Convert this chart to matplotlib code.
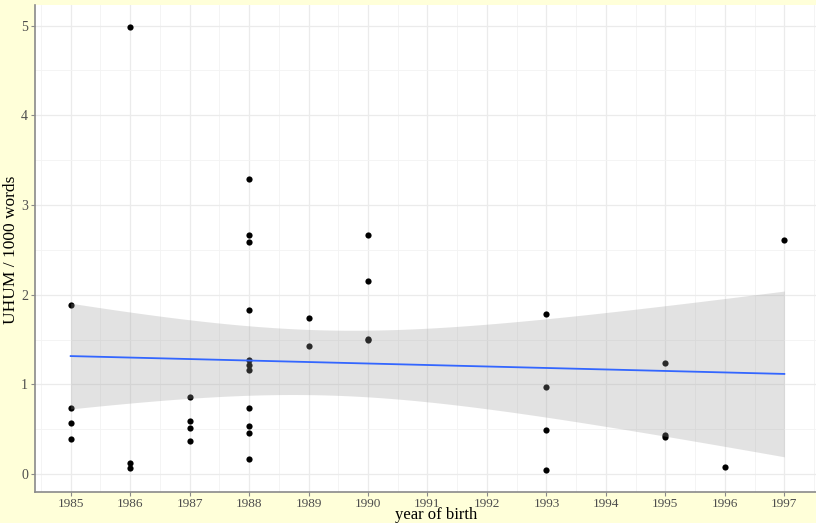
#!/usr/bin/env python3

import numpy as np
import matplotlib

matplotlib.use("Agg")
import matplotlib.pyplot as plt
from matplotlib.ticker import MultipleLocator

plt.rcParams["font.family"] = ["Liberation Serif", "DejaVu Serif"]

# points: year of birth and UHUM per 1000 words
years = (
    [1985] * 4 + [1986] * 3 + [1987] * 4 + [1988] * 11 + [1989] * 2
    + [1990] * 4 + [1993] * 4 + [1995] * 3 + [1996] + [1997]
)
uhum = [
    1.89, 0.74, 0.57, 0.39,
    4.98, 0.12, 0.07,
    0.86, 0.59, 0.51, 0.37,
    3.29, 2.66, 2.59, 1.83, 1.27, 1.22, 1.16, 0.74, 0.54, 0.46, 0.17,
    1.74, 1.43,
    2.66, 2.15, 1.51, 1.49,
    1.79, 0.97, 0.49, 0.04,
    1.24, 0.44, 0.41,
    0.08,
    2.61,
]
year_ticks = list(range(1985, 1998))
T_975 = 2.030  # t quantile, df = 35

BG = "#FFFFD9"


def main(output_file="out.png"):
    x = np.array(years, dtype=float)
    y = np.array(uhum)

    # lm fit with 95% confidence band (geom_smooth(method = "lm"))
    n = len(x)
    slope, intercept = np.polyfit(x, y, 1)
    resid = y - (intercept + slope * x)
    s = np.sqrt(np.sum(resid ** 2) / (n - 2))
    xs = np.linspace(x.min(), x.max(), 80)
    fit = intercept + slope * xs
    se = s * np.sqrt(1 / n + (xs - x.mean()) ** 2 / np.sum((x - x.mean()) ** 2))

    fig = plt.figure(figsize=(8.16, 5.23), dpi=100, facecolor=BG)
    ax = fig.add_axes([35 / 816, 31 / 523, 785 / 816, 487 / 523])
    ax.set_facecolor("white")

    ax.scatter(x, y, s=20, color="black", linewidths=0, zorder=2)
    ax.fill_between(xs, fit - T_975 * se, fit + T_975 * se,
                    color="#999999", alpha=0.28, linewidth=0, zorder=3)
    ax.plot(xs, fit, color="#3366FF", linewidth=1.3, zorder=4)

    ax.set_xlim(1984.4, 1997.6)
    ax.set_ylim(-0.2, 5.23)
    ax.set_xticks(year_ticks)
    ax.yaxis.set_major_locator(MultipleLocator(1))
    ax.xaxis.set_minor_locator(MultipleLocator(0.5))
    ax.yaxis.set_minor_locator(MultipleLocator(0.5))

    ax.grid(which="major", color="#EBEBEB", linewidth=0.9, zorder=0)
    ax.grid(which="minor", color="#F3F3F3", linewidth=0.6, zorder=0)
    ax.set_axisbelow(True)

    for side in ("top", "right"):
        ax.spines[side].set_visible(False)
    for side in ("left", "bottom"):
        ax.spines[side].set_color("#8A8A8A")
        ax.spines[side].set_linewidth(1.2)

    ax.tick_params(which="major", length=3, width=0.8, color="#8A8A8A",
                   labelcolor="#4D4D4D", labelsize=10, pad=2)
    ax.tick_params(axis="x", which="major", labelsize=9.5, pad=1)
    ax.tick_params(which="minor", length=0)

    ax.set_xlabel("year of birth", fontsize=12, va="bottom")
    ax.set_ylabel("UHUM / 1000 words", fontsize=12.5)
    ax.xaxis.set_label_coords(401 / 785, -31 / 487)
    ax.yaxis.set_label_coords(-16 / 785, 242 / 487)

    fig.savefig(output_file, dpi=100, facecolor=BG)
    plt.close(fig)


if __name__ == "__main__":
    main()
